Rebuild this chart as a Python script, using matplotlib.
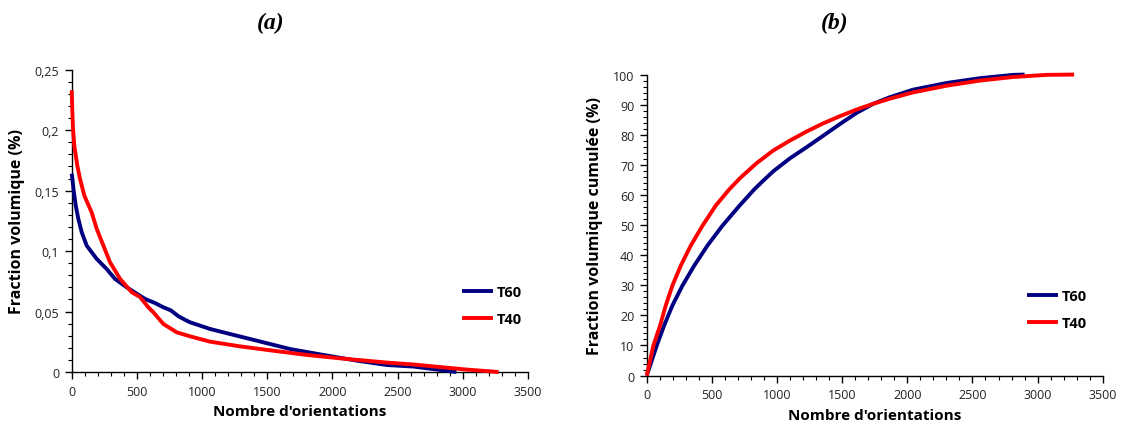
import matplotlib
matplotlib.use("Agg")
import matplotlib.pyplot as plt
from matplotlib.ticker import MultipleLocator, FuncFormatter

# ---- data ----
t60_frac_x = [0, 5, 15, 31, 51, 77, 115, 192, 268, 332, 422, 563, 640, 703, 760, 820, 883,
              908, 1061, 1215, 1420, 1675, 1931, 2187, 2417, 2622, 2878, 2950]
t60_frac_y = [0.164, 0.160, 0.150, 0.1376, 0.1265, 0.1155, 0.1045, 0.0935, 0.0852, 0.077,
              0.070, 0.0604, 0.057, 0.0535, 0.051, 0.046, 0.0424, 0.0411, 0.0356, 0.0314,
              0.0259, 0.019, 0.0141, 0.0094, 0.0058, 0.0045, 0.001, 0.0]

t40_frac_x = [0, 5, 10, 20, 43, 64, 97, 153, 192, 243, 294, 371, 460, 524, 588, 626, 703,
              806, 908, 1061, 1292, 1547, 1804, 2059, 2417, 2622, 3031, 3274]
t40_frac_y = [0.233, 0.215, 0.201, 0.187, 0.1706, 0.1596, 0.1458, 0.132, 0.1183, 0.1045,
              0.0907, 0.077, 0.066, 0.062, 0.0535, 0.0494, 0.0397, 0.0328, 0.0295, 0.0251,
              0.0212, 0.0176, 0.0141, 0.0113, 0.0078, 0.0062, 0.002, 0.0]

t60_cum_x = [0, 77, 133, 197, 274, 364, 466, 581, 709, 824, 888, 972, 1100, 1228, 1355,
             1484, 1612, 1739, 1867, 2046, 2302, 2558, 2814, 2900]
t60_cum_y = [0, 10, 16.6, 23.3, 29.9, 36.5, 43.2, 49.8, 56.3, 61.8, 64.5, 67.9, 72.2, 75.9,
             79.7, 83.6, 87.3, 90.3, 92.5, 95.0, 97.2, 98.8, 99.9, 100]

t40_cum_x = [0, 51, 102, 146, 197, 261, 338, 428, 530, 632, 716, 844, 972, 1100, 1228,
             1355, 1484, 1612, 1739, 1867, 2046, 2302, 2558, 2814, 3070, 3280]
t40_cum_y = [0, 10, 16.6, 23.3, 29.9, 36.5, 43.2, 49.8, 56.5, 61.8, 65.6, 70.6, 74.8, 78.1,
             81.1, 83.8, 86.2, 88.4, 90.3, 92.0, 94.1, 96.3, 98.0, 99.2, 99.9, 100]

series_labels = ["T60", "T40"]
titles = ["(a)", "(b)"]
xlabel = "Nombre d'orientations"
ylabels = ["Fraction volumique (%)", "Fraction volumique cumulée (%)"]

NAVY = "#000080"
RED = "#FF0000"

plt.rcParams['font.family'] = ['Open Sans', 'DejaVu Sans']

fig = plt.figure(figsize=(11.24, 4.35), dpi=100)
axA = fig.add_axes([0.0638, 0.1425, 0.406, 0.695])
axB = fig.add_axes([0.5754, 0.1343, 0.4057, 0.692])

lw = 2.8
kw = dict(lw=lw, clip_on=False, zorder=3, solid_capstyle='butt', solid_joinstyle='round')
axA.plot(t60_frac_x, t60_frac_y, color=NAVY, label=series_labels[0], **kw)
axA.plot(t40_frac_x, t40_frac_y, color=RED, label=series_labels[1], **kw)
axB.plot(t60_cum_x, t60_cum_y, color=NAVY, label=series_labels[0], **kw)
axB.plot(t40_cum_x, t40_cum_y, color=RED, label=series_labels[1], **kw)

axA.set_ylim(0, 0.25)
axA.yaxis.set_major_locator(MultipleLocator(0.05))
axA.yaxis.set_minor_locator(MultipleLocator(0.01))
def comma_fmt(v, pos):
    s = ("%.2f" % v).rstrip('0').rstrip('.')
    return s.replace('.', ',')
axA.yaxis.set_major_formatter(FuncFormatter(comma_fmt))

axB.set_ylim(0, 100)
axB.yaxis.set_major_locator(MultipleLocator(10))
axB.yaxis.set_minor_locator(MultipleLocator(2))

for ax, yl, legx in zip([axA, axB], ylabels, [0.827, 0.805]):
    ax.set_xlim(0, 3500)
    ax.xaxis.set_major_locator(MultipleLocator(500))
    ax.xaxis.set_minor_locator(MultipleLocator(100))
    for s in ['top', 'right']:
        ax.spines[s].set_visible(False)
    for s in ['left', 'bottom']:
        ax.spines[s].set_linewidth(1.0)
        ax.spines[s].set_color('black')
    ax.tick_params(which='major', direction='out', length=5, width=1, labelsize=9,
                   colors='black', labelcolor='#222222', pad=4)
    ax.tick_params(which='minor', direction='out', length=3, width=0.8, colors='black')
    ax.set_xlabel(xlabel, fontsize=11, fontweight='bold', labelpad=5)
    ax.set_ylabel(yl, fontsize=11.5, fontweight='bold', labelpad=7)
    leg = ax.legend(loc='upper left', bbox_to_anchor=(legx, 0.33), frameon=False,
                    handlelength=2.1, handletextpad=0.3, labelspacing=0.9,
                    prop={'weight': 'bold', 'size': 10.5})

fig.text(0.241, 0.945, titles[0], ha='center', va='center', fontsize=17,
         fontweight='bold', fontstyle='italic', family='Liberation Serif')
fig.text(0.743, 0.945, titles[1], ha='center', va='center', fontsize=17,
         fontweight='bold', fontstyle='italic', family='Liberation Serif')

fig.savefig("out.png", dpi=100)
